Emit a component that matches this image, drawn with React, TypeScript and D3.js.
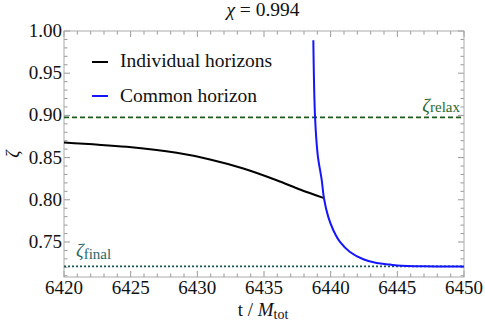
import React, { useEffect } from 'react'
import * as d3 from 'd3'

// individual horizons (black)
const indivT = [6420, 6424.7, 6428.45, 6430.95, 6433.45, 6435.95, 6437.7, 6439.45]
const indivZeta = [0.868, 0.8627, 0.8556, 0.8478, 0.8371, 0.8232, 0.8122, 0.8022]

// common horizon (blue)
const commonT = [6438.7, 6438.83, 6439.03, 6439.33, 6439.5, 6439.82, 6440.2, 6440.7, 6441.45, 6442.45, 6443.45, 6444.45, 6445.0, 6447.0, 6450]
const commonZeta = [0.989, 0.8976, 0.853, 0.8232, 0.8015, 0.7797, 0.7639, 0.75, 0.7381, 0.7295, 0.7251, 0.7232, 0.7222, 0.7212, 0.721]

const zetaRelax = 0.8976
const zetaFinal = 0.7212

const xTicks = [6420, 6425, 6430, 6435, 6440, 6445, 6450]
const yTicks = [0.75, 0.8, 0.85, 0.9, 0.95, 1.0]

const W = 485
const H = 327
const margin = { top: 31, right: 21, bottom: 50, left: 64 }
const FONT = "'Liberation Serif', 'Times New Roman', Times, serif"

const App = () => {
  useEffect(() => {
    document.body.style.margin = '0'
  }, [])

  const x = d3.scaleLinear().domain([6420, 6450]).range([margin.left, W - margin.right])
  const y = d3.scaleLinear().domain([0.7085, 1.0]).range([H - margin.bottom, margin.top])

  const line = d3.line<[number, number]>()
    .x(d => x(d[0]))
    .y(d => y(d[1]))
    .curve(d3.curveCatmullRom.alpha(0.5))

  const indivPath = line(indivT.map((t, i) => [t, indivZeta[i]]))
  const commonPath = line(commonT.map((t, i) => [t, commonZeta[i]]))

  const x0 = x.range()[0], x1 = x.range()[1]
  const y0 = y.range()[0], y1 = y.range()[1]

  const xMinor = d3.range(6421, 6450, 1).filter(v => v % 5 !== 0)
  const yMinor = d3.range(71, 100, 1).map(v => v / 100).filter(v => Math.round(v * 100) % 5 !== 0)

  const tickColor = '#999'
  const major = 6
  const minor = 3.5
  const txt = { fontFamily: FONT }

  return (
    <svg width={W} height={H} style={{ display: 'block', background: '#fff', fontFamily: FONT }}>
      {/* ticks on all four sides */}
      <g stroke={tickColor} strokeWidth={1}>
        {xTicks.map(v => (
          <g key={'xt' + v}>
            <line x1={x(v)} x2={x(v)} y1={y0} y2={y0 - major} />
            <line x1={x(v)} x2={x(v)} y1={y1} y2={y1 + major} />
          </g>
        ))}
        {xMinor.map(v => (
          <g key={'xm' + v}>
            <line x1={x(v)} x2={x(v)} y1={y0} y2={y0 - minor} />
            <line x1={x(v)} x2={x(v)} y1={y1} y2={y1 + minor} />
          </g>
        ))}
        {yTicks.map(v => (
          <g key={'yt' + v}>
            <line x1={x0} x2={x0 + major} y1={y(v)} y2={y(v)} />
            <line x1={x1} x2={x1 - major} y1={y(v)} y2={y(v)} />
          </g>
        ))}
        {yMinor.map(v => (
          <g key={'ym' + v}>
            <line x1={x0} x2={x0 + minor} y1={y(v)} y2={y(v)} />
            <line x1={x1} x2={x1 - minor} y1={y(v)} y2={y(v)} />
          </g>
        ))}
      </g>
      <rect x={x0} y={y1} width={x1 - x0} height={y0 - y1} fill="none" stroke="#aaa" strokeWidth={1} />

      {/* tick labels */}
      {xTicks.map(v => (
        <text key={'xl' + v} x={x(v)} y={y0 + 17} textAnchor="middle" fontSize={19} fill="#111" style={txt}>{v}</text>
      ))}
      {yTicks.map(v => (
        <text key={'yl' + v} x={x0 - 2} y={y(v) + 6} textAnchor="end" fontSize={19} fill="#111" style={txt}>{v.toFixed(2)}</text>
      ))}

      {/* reference lines */}
      <line x1={x0} x2={x1} y1={y(zetaRelax)} y2={y(zetaRelax)} stroke="#1f5a1f" strokeWidth={1.6} strokeDasharray="5,3" />
      <line x1={x0} x2={x1} y1={y(zetaFinal)} y2={y(zetaFinal)} stroke="#1b5656" strokeWidth={1.8} strokeDasharray="2,2" />

      {/* curves */}
      <path d={indivPath || ''} fill="none" stroke="#000" strokeWidth={2} />
      <path d={commonPath || ''} fill="none" stroke="#1515ff" strokeWidth={2} />

      {/* labels for reference lines */}
      <text x={x1 - 4} y={y(zetaRelax) - 5} textAnchor="end" fill="#2a6a2a" style={txt}>
        <tspan fontStyle="italic" fontSize={19}>ζ</tspan>
        <tspan fontSize={15}>relax</tspan>
      </text>
      <text x={x0 + 12} y={y(zetaFinal) - 9} fill="#2a6868" style={txt}>
        <tspan fontStyle="italic" fontSize={19}>ζ</tspan>
        <tspan fontSize={15} dy={2}>final</tspan>
      </text>

      {/* legend */}
      <line x1={92} x2={108} y1={62} y2={62} stroke="#000" strokeWidth={2} />
      <text x={120} y={66.5} fontSize={19.5} fill="#111" style={txt}>Individual horizons</text>
      <line x1={92} x2={108} y1={96} y2={96} stroke="#1515ff" strokeWidth={2} />
      <text x={120} y={101.5} fontSize={19.5} fill="#111" style={txt}>Common horizon</text>

      {/* title */}
      <text x={263} y={16} textAnchor="middle" fontSize={19.5} fill="#111" style={txt}>
        <tspan fontStyle="italic">χ</tspan>
        <tspan> = 0.994</tspan>
      </text>

      {/* axis labels */}
      <text x={263} y={316} textAnchor="middle" fontSize={19} fill="#111" style={txt}>
        <tspan>t / </tspan>
        <tspan fontStyle="italic">M</tspan>
        <tspan fontSize={14} dy={3}>tot</tspan>
      </text>
      <text transform={`translate(19,${(y0 + y1) / 2}) rotate(-90)`} textAnchor="middle" fontSize={18} fontStyle="italic" fill="#111" style={txt}>ζ</text>
    </svg>
  )
}

export default App
